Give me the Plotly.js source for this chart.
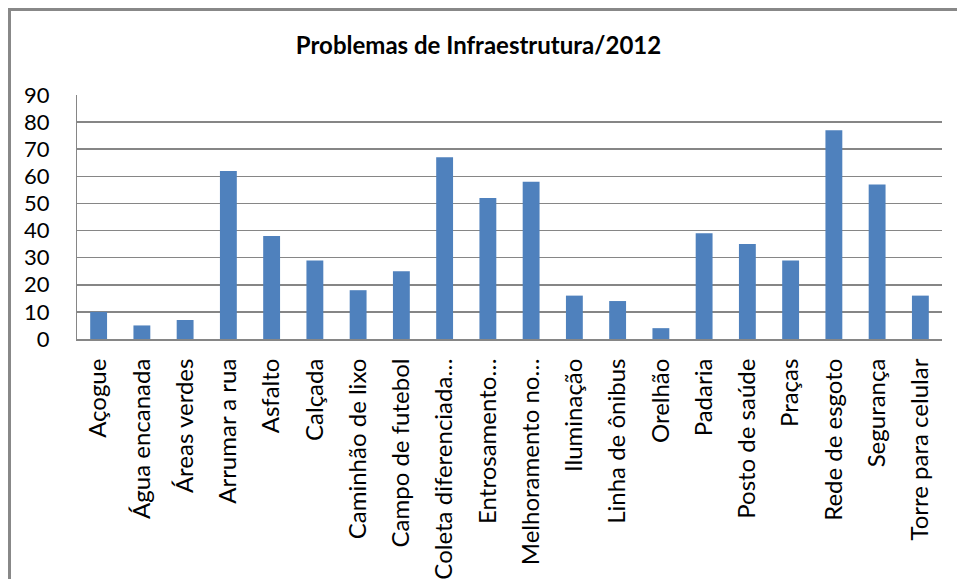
<!DOCTYPE html>
<html>
<head>
<meta charset="utf-8">
<script src="https://cdn.plot.ly/plotly-3.0.1.min.js"></script>
<style>
html,body{margin:0;padding:0;background:#fff;}
#chart{width:957px;height:579px;}
</style>
</head>
<body>
<div id="chart"></div>
<script>
const categories = [
  "Açogue", "Água encanada", "Áreas verdes", "Arrumar a rua", "Asfalto",
  "Calçada", "Caminhão de lixo", "Campo de futebol", "Coleta diferenciada…",
  "Entrosamento…", "Melhoramento no…", "Iluminação", "Linha de ônibus",
  "Orelhão", "Padaria", "Posto de saúde", "Praças", "Rede de esgoto",
  "Segurança", "Torre para celular"
];
const values = [10, 5, 7, 62, 38, 29, 18, 25, 67, 52, 58, 16, 14, 4, 39, 35, 29, 77, 57, 16];
const yTicks = [0, 10, 20, 30, 40, 50, 60, 70, 80, 90];
const titleText = "Problemas de Infraestrutura/2012";

const W = 957, H = 579;
const m = {l: 77, r: 15, t: 95, b: 240};
const pw = W - m.l - m.r, ph = H - m.t - m.b;
function px2x(px){ return (px - m.l) / pw; }
function py2y(py){ return (H - m.b - py) / ph; }

const trace = {
  type: 'bar',
  x: categories,
  y: values,
  marker: {color: '#4F81BD'},
  hoverinfo: 'x+y'
};

const layout = {
  width: W, height: H,
  margin: m,
  paper_bgcolor: '#fff',
  plot_bgcolor: '#fff',
  showlegend: false,
  bargap: 0.61,
  title: {
    text: '<b>' + titleText + '</b>',
    font: {family: 'Lato, "Open Sans", sans-serif', size: 24, color: '#000'},
    x: 0.5, xanchor: 'center',
    y: 1 - 46 / H, yanchor: 'middle'
  },
  xaxis: {
    type: 'category',
    tickangle: -90,
    tickfont: {family: 'Lato, "Open Sans", sans-serif', size: 24, color: '#000'},
    showgrid: false,
    showline: true, linecolor: '#868686', linewidth: 2,
    ticks: '', ticklabelstandoff: 8,
    zeroline: false
  },
  yaxis: {
    range: [0, 90],
    tickvals: yTicks,
    ticktext: yTicks.map(String),
    tickfont: {family: 'Lato, "Open Sans", sans-serif', size: 22, color: '#000'},
    showgrid: true, gridcolor: '#868686', gridwidth: 1.5,
    showline: true, linecolor: '#868686', linewidth: 1,
    zeroline: false,
    ticks: '', ticklabelstandoff: 22
  },
  shapes: [
    {type: 'line', xref: 'paper', yref: 'paper',
     x0: px2x(9.5), x1: px2x(9.5), y0: py2y(8.5), y1: py2y(H + 5),
     line: {color: '#888', width: 3}},
    {type: 'line', xref: 'paper', yref: 'paper',
     x0: px2x(8), x1: px2x(W + 5), y0: py2y(9.5), y1: py2y(9.5),
     line: {color: '#888', width: 3}}
  ]
};

Plotly.newPlot('chart', [trace], layout, {displayModeBar: false, staticPlot: true});
</script>
</body>
</html>
